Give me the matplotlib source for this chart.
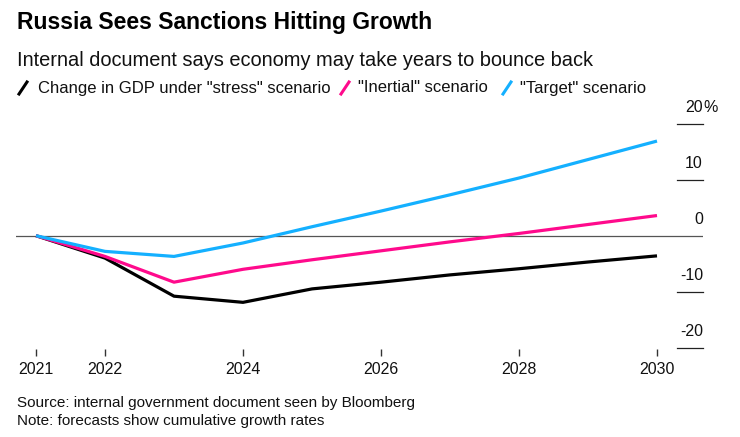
import matplotlib.pyplot as plt
from matplotlib.lines import Line2D
import matplotlib.transforms as mtransforms

plt.rcParams['font.family'] = ['Liberation Sans Narrow', 'Liberation Sans', 'DejaVu Sans']

# data
years = [2021, 2022, 2023, 2024, 2025, 2026, 2027, 2028, 2029, 2030]
stress = [0, -4.0, -10.8, -11.9, -9.5, -8.3, -7.0, -5.9, -4.7, -3.6]
inertial = [0, -3.7, -8.3, -6.0, -4.3, -2.7, -1.1, 0.4, 2.0, 3.6]
target = [0, -2.8, -3.7, -1.3, 1.6, 4.4, 7.3, 10.3, 13.6, 16.9]
xticks = [2021, 2022, 2024, 2026, 2028, 2030]
yticks = [-20, -10, 0, 10, 20]

BLACK = '#000000'
PINK = '#ff0a8c'
BLUE = '#14b0ff'

W, H = 740, 437
fig = plt.figure(figsize=(W / 100, H / 100), dpi=100)

# axes placement in pixels
left_px, right_px = 16, 703
y0_px, px_per_unit = 235.7, 5.6
ymin, ymax = -21.4, 22
top_px = y0_px - ymax * px_per_unit
bot_px = y0_px - ymin * px_per_unit
ax = fig.add_axes([left_px / W, 1 - bot_px / H, (right_px - left_px) / W, (bot_px - top_px) / H])

ax.plot(years, stress, color=BLACK, lw=2.3, solid_capstyle='butt', zorder=3)
ax.plot(years, inertial, color=PINK, lw=2.3, solid_capstyle='butt', zorder=3)
ax.plot(years, target, color=BLUE, lw=2.3, solid_capstyle='butt', zorder=4)

ax.set_xlim(2021 - 20 / 69, 2030 + 46 / 69)
ax.set_ylim(ymin, ymax)
for s in ax.spines.values():
    s.set_visible(False)

ax.axhline(0, color='#555555', lw=0.9, zorder=1)

ax.set_xticks(xticks)
ax.set_xticklabels([str(x) for x in xticks])
ax.tick_params(axis='x', direction='in', length=5, width=1, color='#333333',
               pad=5, labelsize=11.5, labelcolor='#111111')
ax.set_yticks([])

trans = mtransforms.blended_transform_factory(ax.transAxes, ax.transData)
for v in yticks:
    if v != 0:
        ax.plot([0.962, 1.0], [v, v], transform=trans, color='#222222', lw=0.9, clip_on=False)
    lab = str(v)
    ax.text(1.0, v + 1.6, lab, transform=trans, ha='right', va='bottom', fontsize=11.5, color='#111111')
    if v == 20:
        ax.text(1.0, v + 1.6, '%', transform=trans, ha='left', va='bottom', fontsize=11.5, color='#111111')

# titles
fig.text(17 / W, 1 - 22 / H, 'Russia Sees Sanctions Hitting Growth', fontsize=16.5,
         fontweight='bold', va='center', ha='left', color='#000000')
fig.text(17 / W, 1 - 60 / H, 'Internal document says economy may take years to bounce back',
         fontsize=14.4, va='center', ha='left', color='#111111')

# legend
legend_items = [
    (19, 38, BLACK, 'Change in GDP under "stress" scenario'),
    (341, 358, PINK, '"Inertial" scenario'),
    (503, 520, BLUE, '"Target" scenario'),
]
for sx, tx, col, label in legend_items:
    fig.add_artist(Line2D([sx / W, (sx + 8) / W], [1 - 94 / H, 1 - 82 / H],
                          color=col, lw=2.2, transform=fig.transFigure))
    fig.text(tx / W, 1 - 88 / H, label, fontsize=12, va='center', ha='left', color='#111111')

# footer
fig.text(17 / W, 1 - 403 / H, 'Source: internal government document seen by Bloomberg',
         fontsize=11, va='center', ha='left', color='#111111')
fig.text(17 / W, 1 - 421 / H, 'Note: forecasts show cumulative growth rates',
         fontsize=11, va='center', ha='left', color='#111111')

fig.savefig('out.png', dpi=100)
